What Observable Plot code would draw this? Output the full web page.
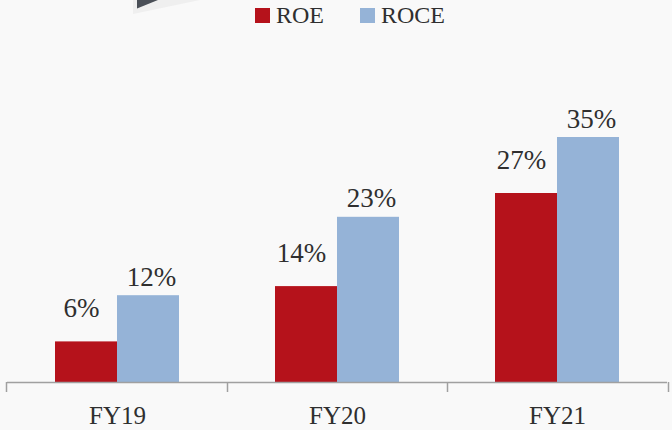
<!DOCTYPE html>
<html>
<head>
<meta charset="utf-8">
<script src="https://cdn.jsdelivr.net/npm/d3@7"></script>
<script src="https://cdn.jsdelivr.net/npm/@observablehq/plot@0.6"></script>
<style>
  html, body { margin: 0; padding: 0; background: #f9f9f9; width: 672px; height: 430px; overflow: hidden; }
  body { position: relative; font-family: "Liberation Serif", serif; color: #2f2f2f; }
  #deco { position: absolute; left: 0; top: 0; }
  #legend { height: 30px; display: flex; align-items: center; padding-left: 255px; font-size: 24px; position: relative; }
  .sw { width: 15px; height: 15px; display: inline-block; margin-right: 6px; }
  .item { display: flex; align-items: center; margin-right: 36px; }
  #chart { position: absolute; left: 0; top: 34px; }
</style>
</head>
<body>
<svg id="deco" width="220" height="20">
  <polygon points="133,0 133,14 200,0" fill="#efefef"></polygon>
  <polygon points="137,0 137,8.5 158,0" fill="#4a4f57"></polygon>
</svg>
<div id="legend"></div>
<div id="chart"></div>
<script>
const categories = ["FY19", "FY20", "FY21"];
const series = ["ROE", "ROCE"];
// bar heights (%)
const roeValues = [5.8, 13.7, 27.0];
const roceValues = [12.4, 23.6, 35.0];
// data labels as printed on the chart
const roeLabels = ["6%", "14%", "27%"];
const roceLabels = ["12%", "23%", "35%"];
const colors = ["#b5121b", "#95b3d7"];

const data = categories.flatMap((c, i) => [
  {year: c, metric: series[0], value: roeValues[i], label: roeLabels[i]},
  {year: c, metric: series[1], value: roceValues[i], label: roceLabels[i]}
]);

// legend
const legend = document.getElementById("legend");
series.forEach((s, i) => {
  const item = document.createElement("span");
  item.className = "item";
  item.innerHTML = `<span class="sw" style="background:${colors[i]}"></span><span>${s}</span>`;
  legend.appendChild(item);
});

const H = 396;

const chart = Plot.plot({
  width: 672,
  height: H,
  marginTop: 0,
  marginBottom: 48,
  marginLeft: 6,
  marginRight: 4,
  style: {background: "transparent", fontFamily: "Liberation Serif", fontSize: "25px", color: "#2f2f2f", overflow: "visible"},
  fx: {domain: categories, padding: 0, label: null, tickSize: 0, tickPadding: 24},
  x: {domain: series, paddingInner: 0, paddingOuter: 0.754, axis: null},
  y: {domain: [0, 348 / 7], axis: null},
  color: {domain: series, range: colors},
  marks: [
    Plot.barY(data, {fx: "year", x: "metric", y: "value", fill: "metric", inset: 0}),
    Plot.text(data.filter(d => d.metric === "ROE"), {fx: "year", x: "metric", y: "value", text: "label", lineAnchor: "bottom", dy: -25, dx: -5, fontSize: 27, fill: "#2f2f2f"}),
    Plot.text(data.filter(d => d.metric === "ROCE"), {fx: "year", x: "metric", y: "value", text: "label", lineAnchor: "bottom", dy: -10, dx: 3, fontSize: 27, fill: "#2f2f2f"}),
    Plot.ruleY([0], {stroke: "#a0a0a0", strokeWidth: 1.5})
  ]
});
document.getElementById("chart").appendChild(chart);

// category boundary ticks, from the library's fx and y scales
const fxs = chart.scale("fx");
const ys = chart.scale("y");
const band = d3.scaleBand().domain(fxs.domain).range(fxs.range).padding(0);
const y0 = ys.apply(0);
const edges = fxs.domain.map(d => band(d)).concat([band(fxs.domain[fxs.domain.length - 1]) + band.bandwidth()]);
d3.select(chart).append("g")
  .selectAll("line").data(edges).join("line")
  .attr("x1", d => Math.round(d) + 0.5).attr("x2", d => Math.round(d) + 0.5)
  .attr("y1", y0).attr("y2", y0 + 10)
  .attr("stroke", "#a0a0a0").attr("stroke-width", 1.5);
</script>
</body>
</html>
